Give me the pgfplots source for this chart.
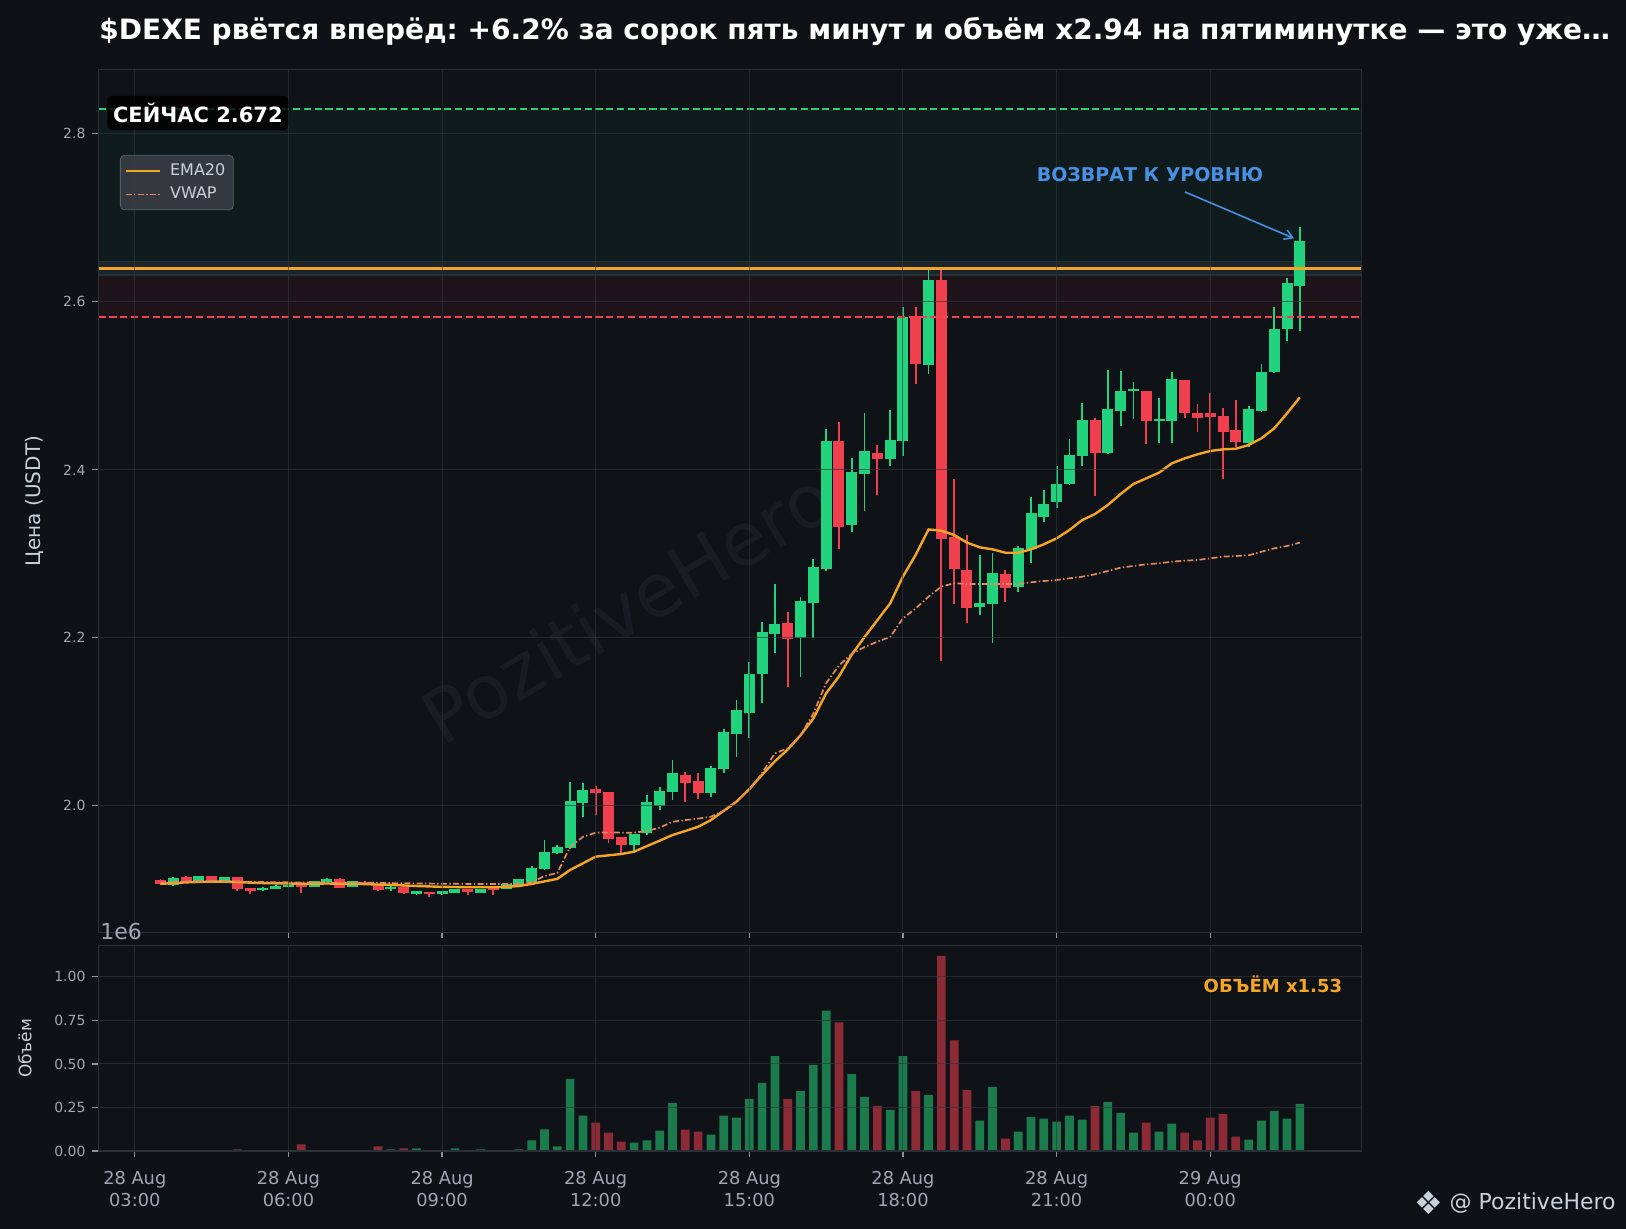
\documentclass[border=0pt]{standalone}
\usepackage{fontspec}
\setmainfont{DejaVu Sans}
\usepackage{pgfplots}
\usepackage{pgfplotstable}
\pgfplotsset{compat=1.18}
\usetikzlibrary{arrows.meta}
\frenchspacing

\definecolor{figbg}{HTML}{0E1116}
\definecolor{axbg}{HTML}{0F1217}
\definecolor{spine}{HTML}{2B3038}
\definecolor{gridc}{HTML}{30363D}
\definecolor{tickc}{HTML}{8B929A}
\definecolor{ticktext}{HTML}{A0A7B0}
\definecolor{labeltext}{HTML}{C9D1D9}
\definecolor{cgreen}{HTML}{22D37E}
\definecolor{cred}{HTML}{F0404E}
\definecolor{vgreen}{HTML}{1B7B4D}
\definecolor{vred}{HTML}{8C2B36}
\definecolor{emac}{HTML}{F5A524}
\definecolor{vwapc}{HTML}{E08A5F}
\definecolor{levelc}{HTML}{F0A52A}
\definecolor{targetc}{HTML}{2BD170}
\definecolor{stopc}{HTML}{EF4452}
\definecolor{greenzone}{HTML}{0F1B1D}
\definecolor{redzone}{HTML}{1F1419}
\definecolor{bandc}{HTML}{1A2429}
\definecolor{bandedge}{HTML}{24323A}
\definecolor{bluec}{HTML}{4A90E2}
\definecolor{wmc}{HTML}{191D23}
\definecolor{legbg}{HTML}{3A3F45}
\definecolor{legedge}{HTML}{585E66}

% t o h l c v  (t = hours from 28 Aug 00:00, v in 1e6)
\pgfplotstableread{
t o h l c v
3.75 1.9055 1.9152 1.9050 1.9137 0.003
4.25 1.9097 1.9165 1.9090 1.9160 0.003
4.75 1.9097 1.9157 1.9090 1.9149 0.003
5.50 1.8998 1.9033 1.8990 1.9022 0.004
5.75 1.9014 1.9055 1.9010 1.9049 0.003
6.00 1.9037 1.9065 1.9035 1.9061 0.003
6.50 1.9037 1.9110 1.9035 1.9101 0.004
6.75 1.9093 1.9141 1.9090 1.9125 0.003
7.25 1.9037 1.9110 1.9035 1.9101 0.003
8.00 1.9010 1.9040 1.8990 1.9037 0.010
8.50 1.8954 1.8990 1.8934 1.8986 0.015
9.00 1.8946 1.8990 1.8934 1.8986 0.004
9.25 1.8966 1.9015 1.8960 1.9010 0.015
9.75 1.8966 1.9013 1.8962 1.9010 0.010
10.25 1.9014 1.9081 1.9010 1.9065 0.004
10.50 1.9053 1.9130 1.9050 1.9125 0.010
10.75 1.9097 1.9283 1.9095 1.9256 0.061
11.00 1.9244 1.9593 1.9240 1.9446 0.124
11.25 1.9434 1.9530 1.9430 1.9505 0.027
11.50 1.9494 2.0283 1.9490 2.0057 0.414
11.75 2.0037 2.0267 1.9863 2.0188 0.203
12.75 1.9533 1.9670 1.9466 1.9664 0.049
13.00 1.9672 2.0129 1.9652 2.0041 0.061
13.25 2.0002 2.0220 1.9950 2.0176 0.117
13.50 2.0160 2.0545 2.0070 2.0386 0.277
14.25 2.0150 2.0474 2.0110 2.0446 0.095
14.50 2.0434 2.0910 2.0394 2.0875 0.203
14.75 2.0850 2.1260 2.0585 2.1140 0.192
15.00 2.1100 2.1710 2.0810 2.1565 0.300
15.25 2.1565 2.2190 2.1220 2.2065 0.391
15.50 2.2040 2.2640 2.1820 2.2164 0.545
16.00 2.1994 2.2482 2.1537 2.2434 0.345
16.25 2.2410 2.2938 2.1994 2.2839 0.495
16.50 2.2819 2.4486 2.2799 2.4339 0.806
17.00 2.3343 2.4140 2.3263 2.3973 0.442
17.25 2.3946 2.4676 2.3513 2.4220 0.311
17.75 2.4133 2.4710 2.4050 2.4350 0.237
18.00 2.4347 2.5940 2.4164 2.5815 0.545
18.50 2.5252 2.6380 2.5140 2.6260 0.323
19.50 2.2363 2.2986 2.2270 2.2410 0.175
19.75 2.2398 2.3010 2.1934 2.2767 0.368
20.25 2.2601 2.3090 2.2540 2.3065 0.112
20.50 2.3057 2.3680 2.2887 2.3482 0.197
20.75 2.3442 2.3760 2.3380 2.3589 0.186
21.00 2.3613 2.4045 2.3550 2.3827 0.169
21.25 2.3827 2.4363 2.3820 2.4172 0.203
21.50 2.4168 2.4791 2.4050 2.4589 0.180
22.00 2.4196 2.5190 2.4190 2.4720 0.283
22.25 2.4704 2.5176 2.4526 2.4934 0.220
22.50 2.4934 2.5040 2.4600 2.4958 0.106
23.00 2.4581 2.4850 2.4320 2.4601 0.112
23.25 2.4577 2.5170 2.4320 2.5077 0.157
24.75 2.4315 2.4760 2.4270 2.4720 0.066
25.00 2.4704 2.5260 2.4690 2.5160 0.175
25.25 2.5168 2.5934 2.5150 2.5672 0.231
25.50 2.5672 2.6280 2.5537 2.6220 0.186
25.75 2.6192 2.6887 2.5656 2.6720 0.271
}\up

\pgfplotstableread{
t o h l c v
3.50 1.9113 1.9125 1.9060 1.9065 0.003
4.00 1.9149 1.9164 1.9080 1.9085 0.003
4.50 1.9160 1.9165 1.9090 1.9097 0.003
5.00 1.9149 1.9152 1.8990 1.9006 0.010
5.25 1.9018 1.9020 1.8950 1.8990 0.004
6.25 1.9069 1.9089 1.8966 1.9029 0.038
7.00 1.9125 1.9141 1.9020 1.9026 0.004
7.50 1.9093 1.9105 1.9060 1.9061 0.003
7.75 1.9069 1.9070 1.8990 1.8998 0.027
8.25 1.9037 1.9040 1.8955 1.8958 0.015
8.75 1.8974 1.8975 1.8918 1.8946 0.004
9.50 1.9010 1.9012 1.8942 1.8970 0.004
10.00 1.9010 1.9012 1.8942 1.8998 0.004
12.00 2.0196 2.0236 1.9887 2.0148 0.163
12.25 2.0160 2.0170 1.9553 1.9601 0.106
12.50 1.9625 1.9630 1.9442 1.9529 0.055
13.75 2.0363 2.0402 2.0050 2.0267 0.123
14.00 2.0290 2.0394 2.0080 2.0150 0.112
15.75 2.2172 2.2307 2.1420 2.1982 0.300
16.75 2.4339 2.4570 2.3060 2.3323 0.738
17.50 2.4196 2.4295 2.3700 2.4133 0.260
18.25 2.5831 2.5940 2.5020 2.5255 0.345
18.75 2.6260 2.6380 2.1728 2.3172 1.120
19.00 2.3196 2.3890 2.2402 2.2815 0.636
19.25 2.2807 2.3224 2.2180 2.2351 0.351
20.00 2.2755 2.2810 2.2430 2.2589 0.072
21.75 2.4589 2.4613 2.3690 2.4196 0.260
22.75 2.4934 2.4940 2.4310 2.4581 0.163
23.50 2.5065 2.5070 2.4620 2.4672 0.106
23.75 2.4672 2.4780 2.4450 2.4613 0.061
24.00 2.4672 2.4920 2.4250 2.4625 0.192
24.25 2.4640 2.4730 2.3890 2.4446 0.214
24.50 2.4470 2.4830 2.4270 2.4327 0.083
}\down

\pgfplotstableread{
t ema vwap
3.50 1.9070 1.9085
3.75 1.9080 1.9095
4.00 1.9088 1.9100
4.25 1.9094 1.9102
4.50 1.9097 1.9103
4.75 1.9097 1.9103
5.00 1.9092 1.9100
5.25 1.9085 1.9095
5.50 1.9080 1.9092
5.75 1.9077 1.9090
6.00 1.9075 1.9090
6.25 1.9072 1.9087
6.50 1.9072 1.9086
6.75 1.9075 1.9086
7.00 1.9072 1.9085
7.25 1.9070 1.9085
7.50 1.9068 1.9084
7.75 1.9062 1.9082
8.00 1.9058 1.9080
8.25 1.9052 1.9078
8.50 1.9045 1.9076
8.75 1.9040 1.9074
9.00 1.9035 1.9072
9.25 1.9033 1.9071
9.50 1.9030 1.9070
9.75 1.9030 1.9069
10.00 1.9030 1.9068
10.25 1.9035 1.9069
10.50 1.9045 1.9070
10.75 1.9070 1.9090
11.00 1.9100 1.9164
11.25 1.9130 1.9200
11.50 1.9236 1.9510
11.75 1.9315 1.9630
12.00 1.9395 1.9680
12.25 1.9410 1.9684
12.50 1.9426 1.9680
12.75 1.9454 1.9680
13.00 1.9520 1.9700
13.25 1.9585 1.9740
13.50 1.9652 1.9810
13.75 1.9700 1.9830
14.00 1.9750 1.9847
14.25 1.9830 1.9870
14.50 1.9940 1.9940
14.75 2.0050 2.0050
15.00 2.0200 2.0190
15.25 2.0370 2.0390
15.50 2.0530 2.0625
15.75 2.0670 2.0684
16.00 2.0840 2.0840
16.25 2.1040 2.1100
16.50 2.1340 2.1460
16.75 2.1540 2.1670
17.00 2.1800 2.1810
17.25 2.2010 2.1890
17.50 2.2210 2.1954
17.75 2.2410 2.2010
18.00 2.2730 2.2232
18.25 2.2990 2.2350
18.50 2.3290 2.2490
18.75 2.3275 2.2610
19.00 2.3224 2.2650
19.25 2.3133 2.2641
19.50 2.3077 2.2640
19.75 2.3053 2.2640
20.00 2.3013 2.2640
20.25 2.3013 2.2642
20.50 2.3053 2.2660
20.75 2.3113 2.2676
21.00 2.3184 2.2688
21.25 2.3283 2.2708
21.50 2.3402 2.2728
21.75 2.3474 2.2756
22.00 2.3581 2.2795
22.25 2.3712 2.2835
22.50 2.3831 2.2855
22.75 2.3898 2.2875
23.00 2.3966 2.2887
23.25 2.4077 2.2906
23.50 2.4136 2.2918
23.75 2.4184 2.2926
24.00 2.4224 2.2946
24.25 2.4244 2.2966
24.50 2.4251 2.2974
24.75 2.4295 2.2982
25.00 2.4375 2.3025
25.25 2.4494 2.3065
25.50 2.4672 2.3093
25.75 2.4863 2.3133
}\lines

\pgfplotsset{
  darkax/.style={
    scale only axis, width=631.55pt,
    xmin=2.291, xmax=26.956,
    axis background/.style={fill=axbg},
    axis line style={draw=spine, line width=0.7pt},
    tick style={draw=tickc, line width=0.6pt},
    major tick length=3pt, tick align=outside,
    xtick pos=left, ytick pos=left,
    xtick={3,6,...,24},
    grid=major,
    grid style={draw=gridc, draw opacity=0.65, line width=0.5pt},
    axis on top,
    ticklabel style={text=ticktext},
    /pgf/number format/assume math mode=true,
  },
  wick/.style={forget plot, draw=none, mark=none,
    error bars/.cd, y dir=both, y explicit, error mark=none,
    error bar style={line width=0.9pt, line cap=butt, draw=#1}},
  body/.style={forget plot, draw=none, mark=none,
    error bars/.cd, y dir=both, y explicit, error mark=none,
    error bar style={line width=5.5pt, line cap=butt, draw=#1}},
}

\begin{document}
\begin{tikzpicture}
\fill[figbg] (0pt,0pt) rectangle (813pt,614.5pt);

% price panel
\begin{axis}[darkax,
  at={(49.25pt,148.35pt)}, anchor=south west, height=431.4pt,
  ymin=1.8494, ymax=2.8766,
  ytick={2.0,2.2,2.4,2.6,2.8},
  xticklabels={},
  yticklabel style={font=\fontsize{7}{8}\selectfont,
    /pgf/number format/fixed, /pgf/number format/fixed zerofill,
    /pgf/number format/precision=1},
  legend style={at={(0.017,0.901)}, anchor=north west,
    fill=legbg, fill opacity=0.85, draw opacity=1, text opacity=1,
    draw=legedge, rounded corners=2pt, text=labeltext,
    font=\fontsize{8}{9.5}\selectfont, inner sep=2pt, row sep=0.5pt,
    /tikz/every odd column/.append style={column sep=2.6pt}},
  legend cell align=left,
]
\node[rotate=30.5, text=wmc, font=\fontsize{37}{40}\selectfont]
  at (axis cs:12.61,2.237) {PozitiveHero};

\fill[greenzone] (axis cs:2.291,2.648) rectangle (axis cs:26.956,2.83);
\fill[redzone] (axis cs:2.291,2.582) rectangle (axis cs:26.956,2.632);
\fill[bandc] (axis cs:2.291,2.632) rectangle (axis cs:26.956,2.648);
\draw[bandedge, line width=0.8pt] (axis cs:2.291,2.632) -- (axis cs:26.956,2.632);
\draw[bandedge, line width=0.8pt] (axis cs:2.291,2.648) -- (axis cs:26.956,2.648);

% candles
\addplot[wick=cgreen] table[x=t, y expr={(\thisrow{h}+\thisrow{l})/2},
  y error expr={(\thisrow{h}-\thisrow{l})/2}] {\up};
\addplot[wick=cred] table[x=t, y expr={(\thisrow{h}+\thisrow{l})/2},
  y error expr={(\thisrow{h}-\thisrow{l})/2}] {\down};
\addplot[body=cgreen] table[x=t, y expr={(\thisrow{o}+\thisrow{c})/2},
  y error expr={max(abs(\thisrow{c}-\thisrow{o})/2,0.0012)}] {\up};
\addplot[body=cred] table[x=t, y expr={(\thisrow{o}+\thisrow{c})/2},
  y error expr={max(abs(\thisrow{c}-\thisrow{o})/2,0.0012)}] {\down};

% levels
\addplot[forget plot, targetc, line width=1pt, dash pattern=on 3.6pt off 1.8pt]
  coordinates {(2.291,2.83) (26.956,2.83)};
\addplot[forget plot, stopc, line width=1.05pt, dash pattern=on 3.6pt off 1.8pt]
  coordinates {(2.291,2.582) (26.956,2.582)};
\addplot[forget plot, levelc, line width=1.6pt]
  coordinates {(2.291,2.64) (26.956,2.64)};

% indicators
\addplot[emac, line width=1.2pt] table[x=t, y=ema] {\lines};
\addlegendentry{EMA20}
\addplot[vwapc, line width=0.85pt, dash pattern=on 3pt off 1.2pt on 0.7pt off 1.2pt]
  table[x=t, y=vwap] {\lines};
\addlegendentry{VWAP}
\end{axis}

% volume panel
\begin{axis}[darkax,
  at={(49.25pt,38.95pt)}, anchor=south west, height=102.65pt,
  ymin=0, ymax=1.178,
  ytick={0,0.25,0.5,0.75,1},
  yticklabel style={font=\fontsize{7}{8}\selectfont,
    /pgf/number format/fixed, /pgf/number format/fixed zerofill,
    /pgf/number format/precision=2},
  xticklabels={{28 Aug\\03:00},{28 Aug\\06:00},{28 Aug\\09:00},{28 Aug\\12:00},
    {28 Aug\\15:00},{28 Aug\\18:00},{28 Aug\\21:00},{29 Aug\\00:00}},
  xticklabel style={align=center, font=\fontsize{8.9}{11}\selectfont, yshift=-3.5pt},
]
\addplot[forget plot, ybar, bar width=0.17, bar shift=0pt, fill=vgreen, draw=none]
  table[x=t, y=v] {\up};
\addplot[forget plot, ybar, bar width=0.17, bar shift=0pt, fill=vred, draw=none]
  table[x=t, y=v] {\down};
\end{axis}

% texts
\node[anchor=west, text=white, font=\bfseries\fontsize{14}{16}\selectfont, inner sep=0pt]
  at (49.5pt,599pt) {\$DEXE рвётся вперёд: +6.2\% за сорок пять минут и объём x2.94 на пятиминутке — это уже…};
\node[rotate=90, text=labeltext, font=\fontsize{10}{12}\selectfont] at (17pt,364pt) {Цена (USDT)};
\node[rotate=90, text=labeltext, font=\fontsize{8.5}{10}\selectfont] at (12.5pt,90.3pt) {Объём};
\node[anchor=west, text=ticktext, font=\fontsize{11}{12}\selectfont, inner sep=0pt] at (50pt,148.5pt) {1e6};

\node[anchor=west, fill=black, fill opacity=0.8, text opacity=1, rounded corners=2pt,
  text=white, font=\bfseries\fontsize{10.5}{12}\selectfont,
  inner xsep=2.8pt, minimum height=17pt] at (53.5pt,558pt) {СЕЙЧАС 2.672};

\node[text=bluec, font=\bfseries\fontsize{9.5}{11}\selectfont] at (575pt,527pt) {ВОЗВРАТ К УРОВНЮ};
\draw[bluec, line width=0.8pt, -{Straight Barb[length=4pt,width=5pt]}]
  (592.5pt,518.5pt) -- (647pt,495.3pt);

\node[anchor=east, text=emac, font=\bfseries\fontsize{9}{11}\selectfont] at (674.6pt,122.5pt) {ОБЪЁМ x1.53};

\node[text=labeltext, font=\fontsize{16}{16}\selectfont, inner sep=0pt] at (714.5pt,13pt) {❖};
\node[anchor=east, text=labeltext, font=\fontsize{11}{12}\selectfont, inner sep=0pt]
  at (808pt,13pt) {@ PozitiveHero};
\end{tikzpicture}
\end{document}
